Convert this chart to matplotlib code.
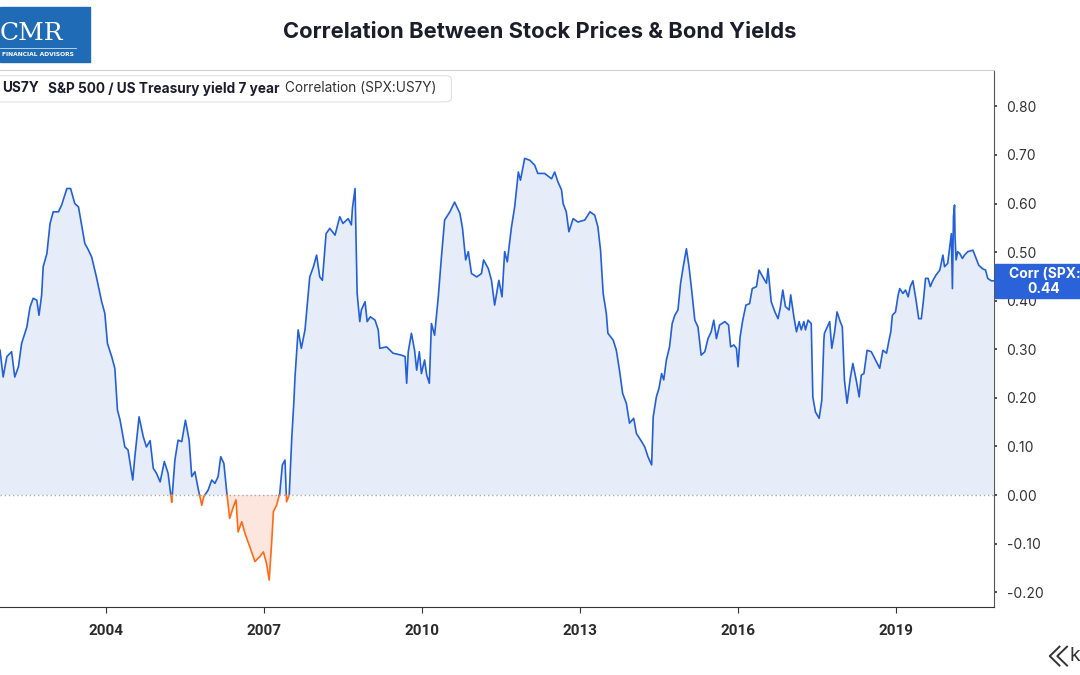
import matplotlib.pyplot as plt
import matplotlib.patches as mpatches
from matplotlib.lines import Line2D
import numpy as np

# decimal years and 1y rolling correlation S&P 500 vs 7y treasury yield
years = [
    2001.99, 2002.05, 2002.12, 2002.21, 2002.27, 2002.34, 2002.40, 2002.50, 2002.56, 2002.62,
    2002.69, 2002.73, 2002.78, 2002.81, 2002.88, 2002.94, 2003.00, 2003.10, 2003.16, 2003.26,
    2003.33, 2003.41, 2003.48, 2003.54, 2003.60, 2003.67, 2003.73, 2003.82, 2003.92, 2003.98,
    2004.03, 2004.11, 2004.17, 2004.22, 2004.27, 2004.36, 2004.42, 2004.51, 2004.55, 2004.63,
    2004.71, 2004.77, 2004.84, 2004.90, 2004.96, 2005.03, 2005.11, 2005.18, 2005.25, 2005.31,
    2005.37, 2005.44, 2005.51, 2005.58, 2005.63, 2005.69, 2005.75, 2005.82, 2005.86, 2005.94,
    2006.01, 2006.07, 2006.13, 2006.18, 2006.24, 2006.30, 2006.35, 2006.42, 2006.47, 2006.51,
    2006.58, 2006.64, 2006.73, 2006.83, 2006.92, 2006.99, 2007.05, 2007.10, 2007.15, 2007.18,
    2007.24, 2007.30, 2007.35, 2007.40, 2007.43, 2007.48, 2007.53, 2007.57, 2007.59, 2007.65,
    2007.71, 2007.78, 2007.87, 2007.94, 2008.00, 2008.06, 2008.11, 2008.18, 2008.25, 2008.35,
    2008.44, 2008.50, 2008.60, 2008.66, 2008.68, 2008.73, 2008.77, 2008.82, 2008.85, 2008.92,
    2008.96, 2009.02, 2009.11, 2009.17, 2009.20, 2009.33, 2009.45, 2009.61, 2009.68, 2009.71,
    2009.74, 2009.80, 2009.86, 2009.90, 2009.95, 2009.99, 2010.05, 2010.09, 2010.14, 2010.18,
    2010.24, 2010.31, 2010.37, 2010.43, 2010.53, 2010.62, 2010.72, 2010.77, 2010.83, 2010.88,
    2010.94, 2011.04, 2011.13, 2011.17, 2011.26, 2011.32, 2011.38, 2011.46, 2011.52, 2011.57,
    2011.62, 2011.70, 2011.76, 2011.83, 2011.87, 2011.95, 2012.05, 2012.14, 2012.20, 2012.33,
    2012.46, 2012.52, 2012.58, 2012.65, 2012.68, 2012.74, 2012.79, 2012.87, 2012.96, 2013.09,
    2013.19, 2013.28, 2013.34, 2013.39, 2013.44, 2013.50, 2013.53, 2013.63, 2013.69, 2013.75,
    2013.81, 2013.88, 2013.94, 2014.02, 2014.07, 2014.17, 2014.23, 2014.29, 2014.36, 2014.39,
    2014.45, 2014.50, 2014.55, 2014.59, 2014.64, 2014.70, 2014.75, 2014.80, 2014.86, 2014.91,
    2014.96, 2015.02, 2015.07, 2015.12, 2015.18, 2015.24, 2015.30, 2015.37, 2015.43, 2015.49,
    2015.54, 2015.59, 2015.65, 2015.75, 2015.82, 2015.86, 2015.92, 2015.97, 2016.00, 2016.04,
    2016.09, 2016.15, 2016.22, 2016.27, 2016.35, 2016.40, 2016.47, 2016.54, 2016.57, 2016.63,
    2016.70, 2016.76, 2016.80, 2016.85, 2016.90, 2016.97, 2017.00, 2017.06, 2017.11, 2017.16,
    2017.20, 2017.25, 2017.28, 2017.33, 2017.39, 2017.42, 2017.47, 2017.54, 2017.59, 2017.63,
    2017.64, 2017.74, 2017.78, 2017.83, 2017.88, 2017.94, 2017.98, 2018.02, 2018.07, 2018.13,
    2018.18, 2018.25, 2018.30, 2018.34, 2018.39, 2018.45, 2018.53, 2018.63, 2018.69, 2018.75,
    2018.82, 2018.86, 2018.90, 2018.93, 2018.99, 2019.04, 2019.07, 2019.13, 2019.18, 2019.23,
    2019.27, 2019.32, 2019.38, 2019.43, 2019.48, 2019.52, 2019.56, 2019.61, 2019.65, 2019.70,
    2019.76, 2019.83, 2019.89, 2019.92, 2019.98, 2020.02, 2020.05, 2020.07, 2020.09, 2020.11,
    2020.12, 2020.14, 2020.17, 2020.21, 2020.26, 2020.30, 2020.36, 2020.46, 2020.52, 2020.57,
    2020.64, 2020.70, 2020.74, 2020.81, 2020.85,
]
corr = [
    0.298, 0.243, 0.285, 0.295, 0.243, 0.264, 0.312, 0.346, 0.387, 0.405,
    0.401, 0.370, 0.411, 0.470, 0.497, 0.559, 0.583, 0.583, 0.597, 0.631,
    0.631, 0.600, 0.593, 0.556, 0.518, 0.504, 0.490, 0.449, 0.398, 0.374,
    0.312, 0.285, 0.261, 0.175, 0.154, 0.099, 0.093, 0.031, 0.079, 0.161,
    0.120, 0.099, 0.112, 0.055, 0.045, 0.027, 0.069, 0.045, -0.015, 0.072,
    0.113, 0.110, 0.154, 0.113, 0.038, 0.048, 0.014, -0.021, -0.003, 0.010,
    0.031, 0.024, 0.038, 0.079, 0.065, 0.000, -0.048, -0.024, -0.010, -0.076,
    -0.055, -0.079, -0.106, -0.137, -0.127, -0.117, -0.141, -0.175, -0.093, -0.034,
    -0.021, 0.003, 0.062, 0.072, -0.014, 0.000, 0.120, 0.195, 0.243, 0.340,
    0.302, 0.340, 0.449, 0.470, 0.494, 0.449, 0.442, 0.538, 0.549, 0.535,
    0.573, 0.559, 0.569, 0.556, 0.590, 0.631, 0.415, 0.357, 0.381, 0.398,
    0.357, 0.367, 0.360, 0.340, 0.302, 0.305, 0.292, 0.288, 0.285, 0.230,
    0.295, 0.333, 0.298, 0.257, 0.295, 0.250, 0.278, 0.247, 0.230, 0.353,
    0.329, 0.408, 0.490, 0.566, 0.583, 0.603, 0.580, 0.549, 0.484, 0.501,
    0.456, 0.449, 0.456, 0.484, 0.466, 0.442, 0.391, 0.442, 0.408, 0.501,
    0.480, 0.552, 0.593, 0.665, 0.648, 0.693, 0.689, 0.679, 0.662, 0.662,
    0.651, 0.665, 0.645, 0.628, 0.600, 0.583, 0.542, 0.569, 0.562, 0.566,
    0.583, 0.576, 0.552, 0.504, 0.415, 0.374, 0.333, 0.319, 0.298, 0.257,
    0.209, 0.189, 0.148, 0.158, 0.127, 0.110, 0.099, 0.079, 0.062, 0.161,
    0.202, 0.220, 0.250, 0.237, 0.278, 0.305, 0.353, 0.370, 0.381, 0.436,
    0.470, 0.507, 0.470, 0.422, 0.360, 0.346, 0.288, 0.295, 0.322, 0.336,
    0.360, 0.322, 0.350, 0.357, 0.350, 0.305, 0.309, 0.302, 0.264, 0.326,
    0.360, 0.391, 0.394, 0.425, 0.429, 0.463, 0.449, 0.436, 0.466, 0.398,
    0.377, 0.363, 0.384, 0.422, 0.388, 0.381, 0.412, 0.367, 0.336, 0.357,
    0.340, 0.357, 0.340, 0.360, 0.353, 0.202, 0.171, 0.158, 0.195, 0.319,
    0.333, 0.357, 0.302, 0.333, 0.377, 0.357, 0.346, 0.237, 0.189, 0.240,
    0.271, 0.233, 0.202, 0.247, 0.250, 0.298, 0.295, 0.274, 0.261, 0.298,
    0.292, 0.315, 0.336, 0.370, 0.377, 0.412, 0.425, 0.415, 0.422, 0.408,
    0.429, 0.441, 0.401, 0.363, 0.363, 0.401, 0.446, 0.446, 0.429, 0.442,
    0.453, 0.463, 0.494, 0.470, 0.477, 0.511, 0.538, 0.425, 0.573, 0.597,
    0.531, 0.484, 0.501, 0.497, 0.487, 0.494, 0.501, 0.504, 0.487, 0.473,
    0.466, 0.463, 0.446, 0.441, 0.441,
]

x_ticks = [2004, 2007, 2010, 2013, 2016, 2019]
y_ticks = [-0.2, -0.1, 0.0, 0.1, 0.2, 0.3, 0.4, 0.5, 0.6, 0.7, 0.8]
last_value = 0.44

BLUE = "#2360d8"
ORANGE = "#ff6a14"
FILL_BLUE = "#e6ecf8"
FILL_ORANGE = "#fde6dd"

t = np.array(years)
v = np.array(corr)

# add zero crossing points so the colours switch exactly at 0
xs, ys = [t[0]], [v[0]]
for i in range(1, len(t)):
    if v[i - 1] * v[i] < 0:
        xc = t[i - 1] + (t[i] - t[i - 1]) * v[i - 1] / (v[i - 1] - v[i])
        xs.append(xc)
        ys.append(0.0)
    xs.append(t[i])
    ys.append(v[i])
xs = np.array(xs)
ys = np.array(ys)

fig = plt.figure(figsize=(10.8, 6.75), dpi=100)
ax = fig.add_axes([0.0, 0.1007, 0.9204, 0.7953])

ax.fill_between(xs, ys, 0, where=ys >= 0, color=FILL_BLUE, lw=0, interpolate=True)
ax.fill_between(xs, ys, 0, where=ys <= 0, color=FILL_ORANGE, lw=0, interpolate=True)
ax.plot(xs, np.ma.masked_where(ys < 0, ys), color=BLUE, lw=1.2)
ax.plot(xs, np.ma.masked_where(ys > 0, ys), color=ORANGE, lw=1.2)
ax.axhline(0, color="#aaaaaa", lw=1, ls=(0, (1, 2)))

ax.set_xlim(2001.99, 2020.86)
ax.set_ylim(-0.2305, 0.8745)

ax.yaxis.tick_right()
ax.set_yticks(y_ticks)
ax.set_yticklabels([f"{y:.2f}" for y in y_ticks])
ax.set_xticks(x_ticks)
ax.set_xticklabels([str(x) for x in x_ticks])

ax.spines["left"].set_visible(False)
ax.spines["top"].set_color("#d0d0d0")
ax.spines["top"].set_linewidth(0.8)
ax.spines["right"].set_color("#555555")
ax.spines["bottom"].set_color("#333333")
ax.tick_params(axis="y", length=2, width=1.2, color="#333333", labelsize=10,
               labelcolor="#333333", pad=7)
ax.tick_params(axis="x", length=4, width=0.8, color="#333333", labelsize=11,
               labelcolor="#2a2a2a", pad=8)
for lab in ax.get_yticklabels():
    lab.set_family("Inter")
for lab in ax.get_xticklabels():
    lab.set_family("Roboto")
    lab.set_fontweight("bold")

# title
fig.text(0.5, 0.953, "Correlation Between Stock Prices & Bond Yields", ha="center", va="center",
         fontsize=15.8, fontweight="bold", family="Inter", color="#1c1c2b")

# CMR logo
fig.patches.append(mpatches.Rectangle((0, 0.908), 0.083, 0.081, transform=fig.transFigure,
                                      color="#1f6bb5", zorder=5))
fig.text(0.0295, 0.950, "CMR", ha="center", va="center", fontsize=18, family="DejaVu Serif",
         color="white", zorder=6)
fig.add_artist(Line2D([0.0, 0.07], [0.929, 0.929], color="white", lw=0.6, alpha=0.8, zorder=6))
fig.text(0.002, 0.919, "FINANCIAL ADVISORS", ha="left", va="center", fontsize=4.3,
         family="DejaVu Sans", fontweight="bold", color="white", zorder=6)

# legend box
fig.patches.append(mpatches.FancyBboxPatch((-0.01, 0.849), 0.428, 0.039,
                                           boxstyle="round,pad=0,rounding_size=0.006",
                                           transform=fig.transFigure, fc="white",
                                           ec="#e2e2e2", lw=0.8, zorder=5))
fig.text(0.002, 0.869, "US7Y", ha="left", va="center", fontsize=9.8, fontweight="bold",
         family="Inter", color="#1c1c2b", zorder=6)
fig.text(0.044, 0.869, "S&P 500 / US Treasury yield 7 year", ha="left", va="center",
         fontsize=9.8, fontweight="bold", family="Inter", color="#1c1c2b", zorder=6)
fig.text(0.264, 0.869, "Correlation (SPX:US7Y)", ha="left", va="center", fontsize=9.8,
         family="Inter", color="#333333", zorder=6)

# last value tag (cut by the right edge as in the source)
fig.patches.append(mpatches.Rectangle((0.9215, 0.558), 0.09, 0.051, transform=fig.transFigure,
                                      color="#2962d9", zorder=5))
fig.text(0.934, 0.594, "Corr (SPX:US7Y)", ha="left", va="center", fontsize=10,
         fontweight="bold", family="Inter", color="white", zorder=6)
fig.text(0.966, 0.572, f"{last_value:.2f}", ha="center", va="center", fontsize=10,
         fontweight="bold", family="Inter", color="white", zorder=6)

# small brand mark bottom right
fig.add_artist(Line2D([0.981, 0.972, 0.981], [0.042, 0.028, 0.014], color="#333333", lw=1.4))
fig.add_artist(Line2D([0.988, 0.979, 0.988], [0.042, 0.028, 0.014], color="#333333", lw=1.4))
fig.text(0.99, 0.028, "k", ha="left", va="center", fontsize=14, family="Inter", color="#333333")

fig.savefig("out.png", dpi=100)
